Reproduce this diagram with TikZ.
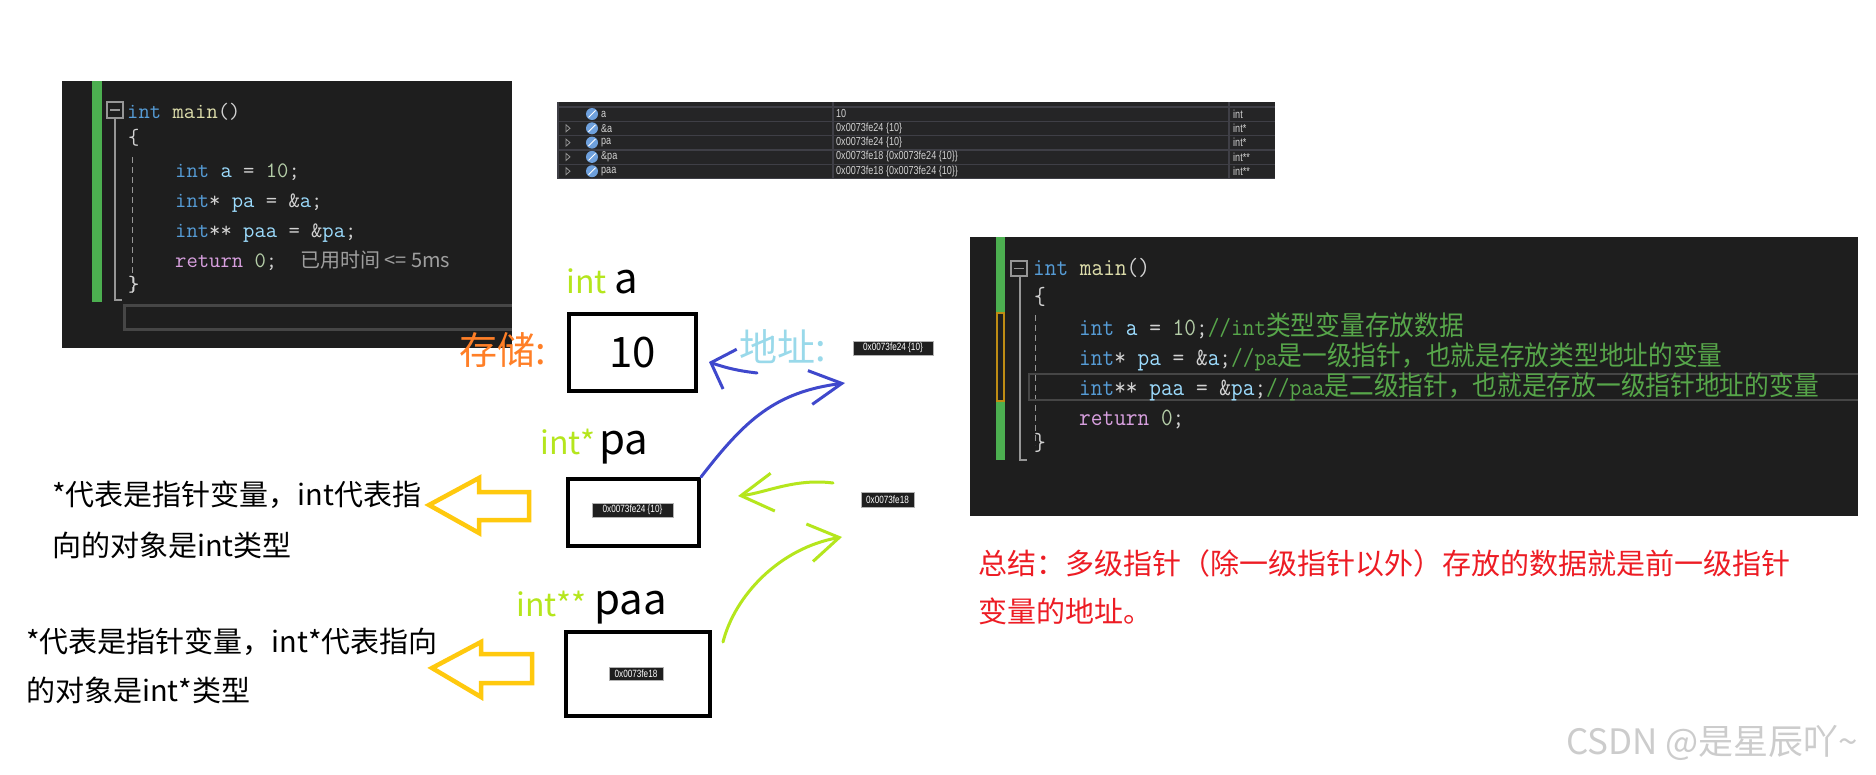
\documentclass[tikz,border=0pt]{standalone}
\usepackage{fontspec}
\usepackage{graphicx}
\usepackage{tikz}
\usetikzlibrary{arrows.meta, positioning, calc}
\newfontfamily\cjkfont{Noto Sans CJK SC}
\newfontfamily\smallsans[FakeStretch=0.78]{Liberation Sans}
\definecolor{vsbg}{RGB}{30,30,30}
\definecolor{vstab}{RGB}{37,37,38}
\definecolor{vsgrid}{RGB}{63,63,70}
\definecolor{vsfold}{RGB}{150,150,150}
\definecolor{vsline}{RGB}{70,70,70}
\definecolor{vskey}{RGB}{86,156,214}
\definecolor{vsfun}{RGB}{220,220,170}
\definecolor{vsvar}{RGB}{156,220,254}
\definecolor{vsnum}{RGB}{181,206,168}
\definecolor{vsret}{RGB}{216,160,223}
\definecolor{vstxt}{RGB}{210,210,210}
\definecolor{vscom}{RGB}{87,166,74}
\definecolor{vsbar}{RGB}{76,175,80}
\definecolor{vsmark}{RGB}{190,140,20}
\definecolor{vsicon}{RGB}{110,160,220}
\definecolor{penblue}{RGB}{63,72,204}
\definecolor{penlime}{RGB}{181,230,29}
\definecolor{penorange}{RGB}{255,127,39}
\definecolor{pensky}{RGB}{153,217,234}
\definecolor{penyellow}{RGB}{255,201,14}
\definecolor{penred}{RGB}{237,28,36}
\newcommand{\ckw}[1]{{\color{vskey}#1}}
\newcommand{\cfun}[1]{{\color{vsfun}#1}}
\newcommand{\cvar}[1]{{\color{vsvar}#1}}
\newcommand{\cnum}[1]{{\color{vsnum}#1}}
\newcommand{\cret}[1]{{\color{vsret}#1}}
\newcommand{\ccom}[1]{{\color{vscom}#1}}
\newcommand{\rhan}[1]{{\cjkfont\fontsize{27}{32}\selectfont #1}}
\newcommand{\narrow}[1]{\scalebox{0.915}[1]{#1}}
\tikzset{
  lcode/.style={anchor=base west, inner sep=0pt, text=vstxt, font=\ttfamily\fontsize{22}{26}\selectfont},
  rcode/.style={anchor=base west, inner sep=0pt, text=vstxt, font=\ttfamily\fontsize{24.8}{30}\selectfont},
  cell/.style={anchor=west, inner sep=0pt, text=vstxt, font=\smallsans\fontsize{11.6}{13}\selectfont},
  addr/.style={fill=black!88, draw=gray!60, line width=0.8pt, text=white, inner sep=0pt, font=\smallsans\fontsize{10.5}{12}\selectfont},
  membox/.style={draw=black, line width=4pt, inner sep=0pt},
  note/.style={anchor=west, inner sep=0pt, font=\cjkfont\fontsize{29}{34}\selectfont},
  hand/.style={line width=3pt, line cap=round, line join=round},
  hollow/.style={draw=penyellow, line width=4.5pt, line join=miter},
}

\begin{document}
\begin{tikzpicture}[x=1pt,y=-1pt]
\fill[white] (0,0) rectangle (1876,774);
\useasboundingbox (0,0) rectangle (1876,774);

% left code window
\fill[vsbg] (62,81) rectangle (512,348);
\fill[vsbar] (92,81) rectangle (102,302);
\draw[vsfold, line width=1.2pt, fill=vsbg] (107,102) rectangle (123,118);
\draw[vsfold, line width=1.6pt] (110,110) -- (120,110);
\draw[vsfold, line width=1.2pt] (115,118) -- (115,300) -- (122,300);
\draw[vsfold, line width=1pt, dash pattern=on 6pt off 4pt] (132,157) -- (132,293);
\draw[vsline, line width=3pt] (512,305) -- (124.5,305) -- (124.5,329.5) -- (512,329.5);
\node[lcode] (l0) at (127,118) {\ckw{int} \cfun{main}()};
\node[lcode, anchor=west] (lopen) at (128,138) {\{};
\node[lcode] (l1) at (175,177) {\ckw{int} \cvar{a} = \cnum{10};};
\node[lcode] (l2) at (175,207) {\ckw{int}* \cvar{pa} = \&\cvar{a};};
\node[lcode] (l3) at (175,237) {\ckw{int}** \cvar{paa} = \&\cvar{pa};};
\node[lcode] (l4) at (175,267) {\cret{return} \cnum{0};};
\node[anchor=base west, inner sep=0pt, text=gray!75, font=\cjkfont\fontsize{20}{24}\selectfont] (time) at (300,267) {已用时间 <= 5ms};
\node[lcode, anchor=west] (lclose) at (128,285) {\}};

% watch window
\fill[vstab] (557,102) rectangle (1275,179);
\foreach \y in {107,121.3,135.6,150,164.3,178.6}
  \draw[vsgrid, line width=1.2pt] (557,\y) -- (1275,\y);
\foreach \x in {558,833,1229}
  \draw[vsgrid, line width=1.2pt] (\x,102) -- (\x,179);
\foreach \nm/\val/\typ [count=\r] in {a/10/int, \&a/0x0073fe24 \{10\}/int*, pa/0x0073fe24 \{10\}/int*, \&pa/0x0073fe18 \{0x0073fe24 \{10\}\}/int**, paa/0x0073fe18 \{0x0073fe24 \{10\}\}/int**} {
  \ifnum\r>1
    \draw[vsfold, line width=0.8pt] (566,{110.5+(\r-1)*14.3}) -- (570,{114+(\r-1)*14.3}) -- (566,{117.5+(\r-1)*14.3}) -- cycle;
  \fi
  \fill[vsicon] (592,{114+(\r-1)*14.3}) circle (6pt);
  \draw[white, line width=0.9pt] (588.5,{117.5+(\r-1)*14.3}) -- (595.5,{110.5+(\r-1)*14.3});
  \node[cell] (nm\r) at (601,{114+(\r-1)*14.3}) {\nm};
  \node[cell] (val\r) at (836,{114+(\r-1)*14.3}) {\val};
  \node[cell] (typ\r) at (1233,{114+(\r-1)*14.3}) {\typ};
}

% memory boxes
\node[anchor=base west, inner sep=0pt, text=penlime, font=\cjkfont\fontsize{32}{38}\selectfont] (ta) at (566,293) {int};
\node[anchor=base west, inner sep=0pt, font=\cjkfont\fontsize{42}{50}\selectfont] (na) at (614,293) {a};
\node[membox, minimum width=127pt, minimum height=77pt, font=\cjkfont\fontsize{42}{50}\selectfont] (ten) at (632.5,352.5) {10\hspace{10pt}};
\node[anchor=west, inner sep=0pt, text=penorange, font=\cjkfont\fontsize{38}{46}\selectfont] (store) at (459,350) {存储:};
\node[anchor=west, inner sep=0pt, text=pensky, font=\cjkfont\fontsize{38}{46}\selectfont] (addr) at (739,347) {地址:};
\node[addr, minimum width=80pt, minimum height=14pt] (adra) at (893,348) {0x0073fe24 \{10\}};

\node[anchor=base west, inner sep=0pt, text=penlime, font=\cjkfont\fontsize{32}{38}\selectfont] (tpa) at (540,454) {int*};
\node[anchor=base west, inner sep=0pt, font=\cjkfont\fontsize{42}{50}\selectfont] (npa) at (599,454) {pa};
\node[membox, minimum width=131pt, minimum height=67pt] (pa) at (633.5,512.5) {};
\node[addr, minimum width=81pt, minimum height=14pt] (adrpa) at (632.5,510) {0x0073fe24 \{10\}};
\node[addr, minimum width=53pt, minimum height=15pt] (adrb) at (887.5,499.5) {0x0073fe18};

\node[anchor=base west, inner sep=0pt, text=penlime, font=\cjkfont\fontsize{32}{38}\selectfont] (tpaa) at (516,616) {int**};
\node[anchor=base west, inner sep=0pt, font=\cjkfont\fontsize{42}{50}\selectfont] (npaa) at (594,614) {paa};
\node[membox, minimum width=144pt, minimum height=84pt] (paa) at (638,674) {};
\node[addr, minimum width=54pt, minimum height=13pt] (adrpaa) at (636,673.5) {0x0073fe18};

% pen strokes
\coordinate (b1s) at (757,373);
\coordinate (b1t) at (709,362);
\coordinate (b2t) at (845,383);
\coordinate (g1s) at (833,483);
\coordinate (g1t) at (738,496);
\coordinate (g2s) at (723,642);
\coordinate (g2t) at (842,537);
\draw[hand, penblue, -{Straight Barb[length=20pt,width=42pt]}] (b1s) to[bend left=6] (b1t);
\draw[hand, penblue, -{Straight Barb[length=32pt,width=34pt]}] (pa.north east) .. controls (745,420) and (775,392) .. (b2t);
\draw[hand, penlime, -{Straight Barb[length=32pt,width=38pt]}] (g1s) .. controls (795,478) and (765,493) .. (g1t);
\draw[hand, penlime, -{Straight Barb[length=30pt,width=38pt]}] (g2s) .. controls (735,595) and (780,548) .. (g2t);

% notes
\draw[hollow] (429,505) -- (479,478) -- (479,492) -- (529,492) -- (529,520) -- (479,520) -- (479,533) -- cycle;
\draw[hollow] (432,668) -- (481,642) -- (481,654) -- (532,654) -- (532,683) -- (481,683) -- (481,697) -- cycle;
\node[note] (n1) at (52,495) {*代表是指针变量，int代表指};
\node[note] (n2) at (52,545) {向的对象是int类型};
\node[note] (n3) at (26,642) {*代表是指针变量，int*代表指向};
\node[note] (n4) at (26,690) {的对象是int*类型};

% right code window
\fill[vsbg] (970,237) rectangle (1858,516);
\fill[vsbar] (996,237) rectangle (1005,460);
\draw[vsmark, line width=1.5pt, fill=vsbg] (996.8,313) rectangle (1004.2,401);
\draw[vsfold, line width=1.2pt, fill=vsbg] (1011,261) rectangle (1027,276);
\draw[vsfold, line width=1.6pt] (1014,268.5) -- (1024,268.5);
\draw[vsfold, line width=1.2pt] (1020,276) -- (1020,460) -- (1027,460);
\draw[vsfold, line width=1pt, dash pattern=on 6pt off 4pt] (1035,315) -- (1035,445);
\draw[vsline, line width=2.5pt] (1858,374) -- (1029,374) -- (1029,400) -- (1858,400);
\node[rcode] (r0) at (1033,275) {\narrow{\ckw{int} \cfun{main}()}};
\node[rcode, anchor=west] (ropen) at (1034,297) {\narrow{\{}};
\node[rcode] (r1) at (1079,335) {\narrow{\ckw{int} \cvar{a} = \cnum{10};\ccom{//int\rhan{类型变量存放数据}}}};
\node[rcode] (r2) at (1079,365) {\narrow{\ckw{int}* \cvar{pa} = \&\cvar{a};\ccom{//pa\rhan{是一级指针，也就是存放类型地址的变量}}}};
\node[rcode] (r3) at (1079,395) {\narrow{\ckw{int}** \cvar{paa} = \&\cvar{pa};\ccom{//paa\rhan{是二级指针，也就是存放一级指针地址的变量}}}};
\node[rcode] (r4) at (1079,425) {\narrow{\cret{return} \cnum{0};}};
\node[rcode, anchor=west] (rclose) at (1034,443) {\narrow{\}}};

% summary
\node[anchor=west, inner sep=0pt, text=penred, font=\cjkfont\fontsize{29}{35}\selectfont] (sum1) at (978,563) {总结：多级指针（除一级指针以外）存放的数据就是前一级指针};
\node[anchor=west, inner sep=0pt, text=penred, font=\cjkfont\fontsize{29}{35}\selectfont] (sum2) at (978,611) {变量的地址。};
\node[anchor=west, inner sep=0pt, text=gray!40, font=\cjkfont\fontsize{35}{40}\selectfont] (csdn) at (1566,743) {CSDN @是星辰吖\textasciitilde};
\end{tikzpicture}
\end{document}
